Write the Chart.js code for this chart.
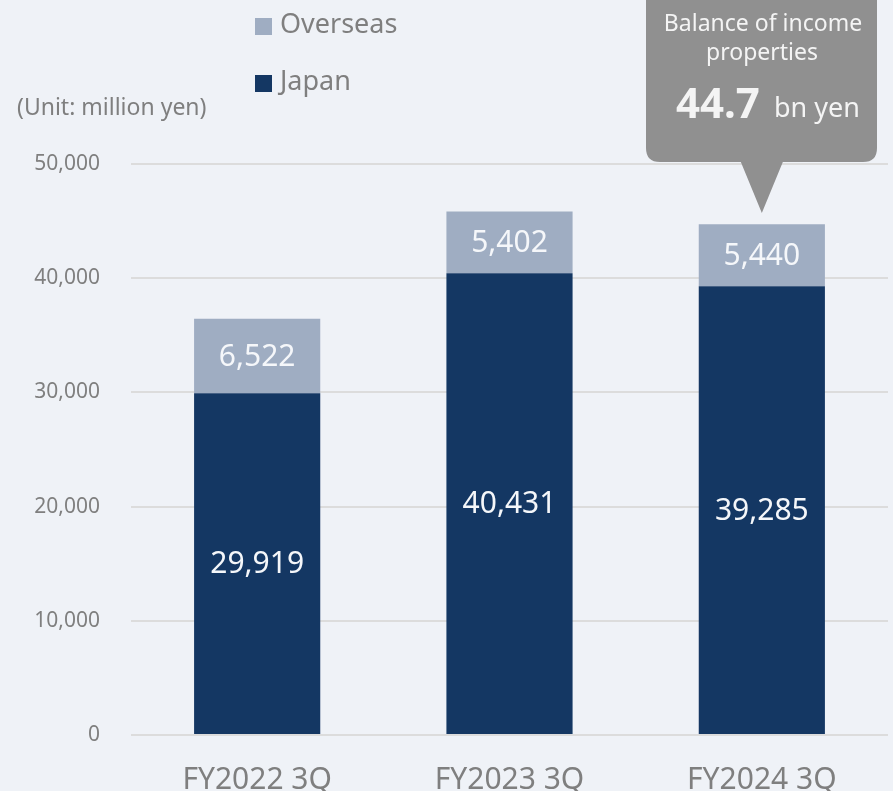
<!DOCTYPE html>
<html>
<head>
<meta charset="utf-8">
<script src="https://cdn.jsdelivr.net/npm/chart.js@4.4.1/dist/chart.umd.min.js"></script>
<style>
  html, body { margin: 0; padding: 0; background: #eff2f7; overflow: hidden; }
  #wrap { width: 893px; height: 791px; }
</style>
</head>
<body>
<div id="wrap"><canvas id="chartIncome" width="893" height="791"></canvas></div>
<script>
// Balance of income properties by region (million yen)
const categories = ['FY2022 3Q', 'FY2023 3Q', 'FY2024 3Q'];
const japan = [29919, 40431, 39285];
const overseas = [6522, 5402, 5440];
const yTicks = [0, 10000, 20000, 30000, 40000, 50000];

const FONT = '"Noto Sans", "DejaVu Sans", sans-serif';
const NAVY = '#143763';
const GREY_BLUE = '#9fadc2';
const TEXT_GREY = '#7f7f7f';

const fmt = v => v.toLocaleString('en-US');

// valores dentro de cada segmento
const barLabels = {
  id: 'barLabels',
  afterDatasetsDraw(chart) {
    const ctx = chart.ctx;
    ctx.save();
    ctx.font = '30px ' + FONT;
    ctx.fillStyle = '#f5f7fa';
    ctx.textAlign = 'center';
    ctx.textBaseline = 'middle';
    chart.data.datasets.forEach((ds, i) => {
      chart.getDatasetMeta(i).data.forEach((bar, j) => {
        const y = (bar.y + bar.base) / 2;
        ctx.fillText(fmt(ds.data[j]), bar.x, y + 1);
      });
    });
    ctx.restore();
  }
};

// leyenda, unidad y globo con el total
const extras = {
  id: 'extras',
  afterDraw(chart) {
    const ctx = chart.ctx;
    ctx.save();

    // leyenda
    const legend = [['Overseas', GREY_BLUE, 18], ['Japan', NAVY, 75]];
    ctx.font = '27px ' + FONT;
    ctx.textAlign = 'left';
    ctx.textBaseline = 'middle';
    legend.forEach(([txt, col, y]) => {
      ctx.fillStyle = col;
      ctx.fillRect(255, y, 17, 17);
      ctx.fillStyle = TEXT_GREY;
      ctx.fillText(txt, 280, y + 7);
    });

    // unidad
    ctx.font = '23px ' + FONT;
    ctx.fillText('(Unit: million yen)', 17, 108);

    // globo
    const last = categories.length - 1;
    const total = japan[last] + overseas[last];
    const bx = 646, by = -14, bw = 231, bh = 176, r = 14;
    const tipX = chart.getDatasetMeta(0).data[last].x;
    ctx.fillStyle = '#909090';
    ctx.beginPath();
    ctx.moveTo(bx + r, by);
    ctx.lineTo(bx + bw - r, by);
    ctx.quadraticCurveTo(bx + bw, by, bx + bw, by + r);
    ctx.lineTo(bx + bw, by + bh - r);
    ctx.quadraticCurveTo(bx + bw, by + bh, bx + bw - r, by + bh);
    ctx.lineTo(tipX + 21, by + bh);
    ctx.lineTo(tipX, 213);
    ctx.lineTo(tipX - 21, by + bh);
    ctx.lineTo(bx + r, by + bh);
    ctx.quadraticCurveTo(bx, by + bh, bx, by + bh - r);
    ctx.lineTo(bx, by + r);
    ctx.quadraticCurveTo(bx, by, bx + r, by);
    ctx.closePath();
    ctx.fill();

    ctx.fillStyle = '#f4f4f4';
    ctx.textAlign = 'center';
    ctx.font = '23px ' + FONT;
    ctx.fillText('Balance of income', 763, 24);
    ctx.fillText('properties', 762, 53);

    const big = (total / 1000).toFixed(1);
    ctx.textAlign = 'left';
    ctx.textBaseline = 'alphabetic';
    ctx.font = 'bold 42px ' + FONT;
    ctx.fillText(big, 676, 118);
    ctx.font = '27px ' + FONT;
    ctx.fillText('bn yen', 774, 117);

    ctx.restore();
  }
};

new Chart(document.getElementById('chartIncome'), {
  type: 'bar',
  data: {
    labels: categories,
    datasets: [
      { label: 'Japan', data: japan, backgroundColor: NAVY, borderWidth: 0 },
      { label: 'Overseas', data: overseas, backgroundColor: GREY_BLUE, borderWidth: 0 }
    ]
  },
  options: {
    responsive: false,
    animation: false,
    events: [],
    layout: { padding: { top: 164, right: 5, left: 0, bottom: 0 } },
    datasets: { bar: { categoryPercentage: 1, barPercentage: 0.5 } },
    plugins: { legend: { display: false }, tooltip: { enabled: false } },
    scales: {
      x: {
        stacked: true,
        grid: { display: false },
        border: { display: false },
        ticks: { color: TEXT_GREY, font: { family: FONT, size: 30 }, padding: 19 },
        afterFit(scale) { scale.height = 56; }
      },
      y: {
        stacked: true,
        min: 0,
        max: 50000,
        afterBuildTicks(scale) { scale.ticks = yTicks.map(v => ({ value: v })); },
        grid: { color: '#dcdcdc', lineWidth: 2, drawTicks: false },
        border: { display: false },
        ticks: { color: TEXT_GREY, font: { family: FONT, size: 21 }, padding: 31, callback: v => fmt(v) },
        afterFit(scale) { scale.width = 131; }
      }
    }
  },
  plugins: [barLabels, extras]
});
</script>
</body>
</html>
